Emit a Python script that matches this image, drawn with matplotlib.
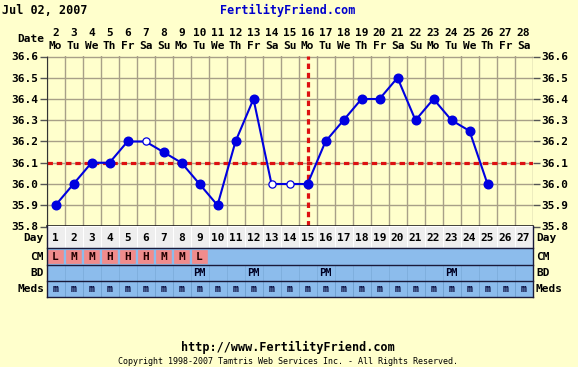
import matplotlib
matplotlib.use("Agg")
import matplotlib.pyplot as plt
import matplotlib.transforms as mtransforms
import numpy as np

# ---------------- data ----------------
title_date = "Jul 02, 2007"
site = "FertilityFriend.com"
cycle_days = list(range(1, 28))
dates = list(range(2, 29))
weekdays = ["Mo", "Tu", "We", "Th", "Fr", "Sa", "Su"] * 4
weekdays = weekdays[:27]
temps = [35.9, 36.0, 36.1, 36.1, 36.2, 36.2, 36.15, 36.1, 36.0, 35.9,
         36.2, 36.4, 36.0, 36.0, 36.0, 36.2, 36.3, 36.4, 36.4, 36.5,
         36.3, 36.4, 36.3, 36.25, 36.0, None, None]
open_days = [6, 13, 14]
coverline = 36.1
ovulation_day = 15
cm_values = ["L", "M", "M", "H", "H", "H", "M", "M", "L"] + [""] * 18
bd_values = {9: "PM", 12: "PM", 16: "PM", 23: "PM"}
meds_values = ["m"] * 27
yticks = [35.8, 35.9, 36.0, 36.1, 36.2, 36.3, 36.4, 36.5, 36.6]
row_labels = ["Day", "CM", "BD", "Meds"]
footer_url = "http://www.FertilityFriend.com"
footer_copy = "Copyright 1998-2007 Tamtris Web Services Inc. - All Rights Reserved."

# ---------------- style ----------------
BG = "#FFFFCC"
GRID = "#A8A088"
BLUE = "#0000E0"
RED = "#DD1111"
CELL_BLUE = "#8CBCEC"
CELL_PINK = "#F08C8C"
DAY_BG = "#EEEEEE"
MONO = "DejaVu Sans Mono"

W, H = 578, 367
fig = plt.figure(figsize=(W / 100, H / 100), dpi=100, facecolor=BG)

def fx(px):
    return px / W

def fy(py):
    return 1 - py / H

left_px, right_px = 46.5, 532.5
top_px, bot_px = 56.5, 226.5
ax = fig.add_axes([fx(left_px), fy(bot_px), fx(right_px - left_px), (bot_px - top_px) / H])
ax.set_facecolor(BG)
ax.set_xlim(0.5, 27.5)
ax.set_ylim(35.8, 36.6)

# grid
ax.set_xticks(np.arange(0.5, 28.0, 1.0))
ax.set_yticks(yticks)
ax.grid(True, color=GRID, linewidth=1.0)
ax.set_axisbelow(True)
ax.tick_params(axis="x", length=0, labelbottom=False)
ax.tick_params(axis="y", which="both", left=True, right=True, labelleft=True,
               labelright=True, length=5, width=1, color="#555555", pad=1,
               labelsize=8)
ax.set_yticklabels([f"{v:.1f}" for v in yticks], fontfamily=MONO, fontweight="bold", fontsize=8)
for side in ["top", "right"]:
    ax.spines[side].set_visible(False)
ax.spines["left"].set_color("#333333")
ax.spines["bottom"].set_color("#222222")
ax.spines["bottom"].set_linewidth(1.2)

# cover line and ovulation line
ax.axhline(coverline, color=RED, linewidth=2.3, linestyle=(0, (1.7, 1.2)), zorder=2)
ax.axvline(ovulation_day, color=RED, linewidth=2.3, linestyle=(0, (1.7, 1.2)), zorder=2)

# temperature line
xs = [d for d, t in zip(cycle_days, temps) if t is not None]
ys = [t for t in temps if t is not None]
ax.plot(xs, ys, color=BLUE, linewidth=1.5, zorder=3)
filled_x = [d for d in xs if d not in open_days]
filled_y = [temps[d - 1] for d in filled_x]
ax.plot(filled_x, filled_y, "o", color=BLUE, markersize=6.2, zorder=4)
open_y = [temps[d - 1] for d in open_days]
ax.plot(open_days, open_y, "o", markerfacecolor="white", markeredgecolor=BLUE,
        markersize=5.2, markeredgewidth=0.9, zorder=4)

# header texts
fig.text(fx(2), fy(10), title_date, fontfamily=MONO, fontweight="bold", fontsize=8.5,
         ha="left", va="center", color="black")
fig.text(fx(288), fy(10), site, fontfamily=MONO, fontweight="bold", fontsize=8.5,
         ha="center", va="center", color="#0000CC")

trans_top = mtransforms.blended_transform_factory(ax.transData, fig.transFigure)
for d, dt, wd in zip(cycle_days, dates, weekdays):
    ax.text(d, fy(33), str(dt), transform=trans_top, ha="center", va="center",
            fontfamily=MONO, fontweight="bold", fontsize=8, clip_on=False)
    ax.text(d, fy(46), wd, transform=trans_top, ha="center", va="center",
            fontfamily=MONO, fontweight="bold", fontsize=8, clip_on=False)
fig.text(fx(44), fy(39), "Date", fontfamily=MONO, fontweight="bold", fontsize=8,
         ha="right", va="center")

# ---------------- table rows ----------------
row_tops = [0, 22, 38, 54]
row_h = [22, 16, 16, 16]
total = 70
ax2 = fig.add_axes([fx(left_px), fy(bot_px + total), fx(right_px - left_px), total / H])
ax2.set_xlim(0.5, 27.5)
ax2.set_ylim(total, 0)
ax2.axis("off")

# Day row
ax2.bar(cycle_days, row_h[0], bottom=row_tops[0], width=1.0, color=DAY_BG,
        edgecolor="#FFFFFF", linewidth=0.8)
# CM row
cm_colors = [CELL_PINK if v else CELL_BLUE for v in cm_values]
ax2.bar(cycle_days, row_h[1], bottom=row_tops[1], width=1.0, color=cm_colors,
        edgecolor=CELL_BLUE, linewidth=1.6)
# BD row
ax2.bar(cycle_days, row_h[2], bottom=row_tops[2], width=1.0, color=CELL_BLUE,
        edgecolor="#7EAEDE", linewidth=0.6)
# Meds row
ax2.bar(cycle_days, row_h[3], bottom=row_tops[3], width=1.0, color=CELL_BLUE,
        edgecolor="#6F9FD0", linewidth=0.6)

for yb in [row_tops[1], row_tops[2], row_tops[3], total]:
    ax2.plot([0.5, 27.5], [yb, yb], color="#1A1A3A", linewidth=1.0, clip_on=False)
ax2.plot([0.5, 0.5], [0, total], color="#1A1A3A", linewidth=1.0, clip_on=False)
ax2.plot([27.5, 27.5], [0, total], color="#1A1A3A", linewidth=1.0, clip_on=False)

for i, d in enumerate(cycle_days):
    ax2.text(d, row_tops[0] + row_h[0] / 2 + 0.5, str(d), ha="center", va="center",
             fontfamily=MONO, fontweight="bold", fontsize=8)
    if cm_values[i]:
        ax2.text(d, row_tops[1] + row_h[1] / 2 + 0.5, cm_values[i], ha="center", va="center",
                 fontfamily=MONO, fontweight="bold", fontsize=8, color="#220000")
    if d in bd_values:
        ax2.text(d, row_tops[2] + row_h[2] / 2 + 0.5, bd_values[d], ha="center", va="center",
                 fontfamily=MONO, fontweight="bold", fontsize=7.5, color="#000022")
    ax2.text(d, row_tops[3] + row_h[3] / 2, meds_values[i], ha="center", va="center",
             fontfamily=MONO, fontweight="bold", fontsize=7, color="#000033")

trans_row = mtransforms.blended_transform_factory(fig.transFigure, ax2.transData)
for lab, t, h in zip(row_labels, row_tops, row_h):
    yc = t + h / 2 + 0.5
    ax2.text(fx(44), yc, lab, transform=trans_row, ha="right", va="center",
             fontfamily=MONO, fontweight="bold", fontsize=8, clip_on=False)
    ax2.text(fx(536), yc, lab, transform=trans_row, ha="left", va="center",
             fontfamily=MONO, fontweight="bold", fontsize=8, clip_on=False)

# footer
fig.text(fx(288), fy(347), footer_url, fontfamily=MONO, fontweight="bold", fontsize=8.5,
         ha="center", va="center")
fig.text(fx(288), fy(362), footer_copy, fontfamily=MONO, fontsize=6,
         ha="center", va="center")

fig.savefig("out.png", dpi=100, facecolor=BG)
